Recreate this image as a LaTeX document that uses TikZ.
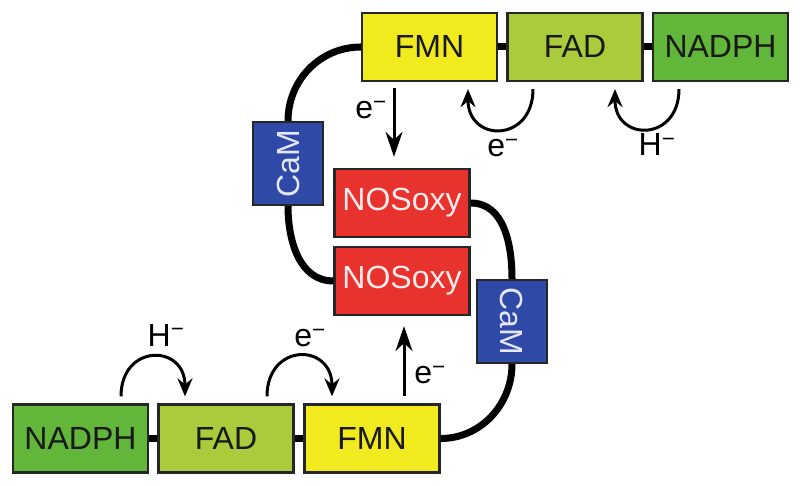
\documentclass[tikz,border=0pt]{standalone}
\usepackage{fontspec}
\setmainfont{Liberation Sans}
\usetikzlibrary{arrows.meta}
\definecolor{fmncol}{RGB}{241,234,30}
\definecolor{fadcol}{RGB}{170,204,60}
\definecolor{nadphcol}{RGB}{98,182,58}
\definecolor{oxycol}{RGB}{232,50,46}
\definecolor{camcol}{RGB}{46,74,166}

\begin{document}
\begin{tikzpicture}[x=1pt, y=1pt]
	\tikzstyle{modbox} = [draw=black!85, line width=2.2pt, minimum width=135pt, minimum height=68pt, inner sep=0pt, text=black!90, font=\fontsize{32}{38}\selectfont]
	\tikzstyle{oxybox} = [modbox, fill=oxycol, text=white!92!red]
	\tikzstyle{cambox} = [modbox, fill=camcol, text=white!90!blue, minimum width=70pt, minimum height=83pt]
	\tikzstyle{linker} = [line width=7pt]
	\tikzstyle{pusharrow} = [line width=3pt, -{Stealth[length=25pt, width=17pt, inset=8pt]}]
	\tikzstyle{hoparrow} = [line width=3pt, -{Stealth[length=18pt, width=15pt, inset=6pt]}]
	\tikzstyle{lbl} = [inner sep=0pt, font=\fontsize{32}{38}\selectfont]
	\useasboundingbox (0,0) rectangle (800,486);
	% top reductase
	\node[modbox, fill=fmncol] (fmnT) at (429.5, 439) {FMN};
	\node[modbox, fill=fadcol] (fadT) at (575, 439) {FAD};
	\node[modbox, fill=nadphcol] (nadphT) at (720.5, 439) {NADPH};
	\node[cambox] (camT) at (288, 322.5) {\rotatebox{90}{CaM}};
	% oxygenase dimer
	\node[oxybox] (oxyT) at (402, 283) {NOSoxy};
	\node[oxybox] (oxyB) at (402, 205) {NOSoxy};
	% bottom reductase
	\node[cambox] (camB) at (512, 164.5) {\rotatebox{-90}{CaM}};
	\node[modbox, fill=nadphcol] (nadphB) at (80.5, 47.5) {NADPH};
	\node[modbox, fill=fadcol] (fadB) at (226, 47.5) {FAD};
	\node[modbox, fill=fmncol] (fmnB) at (372, 47.5) {FMN};
	\draw [linker] (fmnT.east)--(fadT.west);
	\draw [linker] (fadT.east)--(nadphT.west);
	\draw [linker] (nadphB.east)--(fadB.west);
	\draw [linker] (fadB.east)--(fmnB.west);
	\draw [linker] (fmnT.west) to[out=180, in=90] (camT.north);
	\draw [linker] (camT.south) to[out=-90, in=180] (oxyB.west);
	\draw [linker] (oxyT.east) to[out=0, in=90] (camB.north);
	\draw [linker] (camB.south) to[out=-90, in=0] (fmnB.east);
	% electron and hydride transfer
	\draw [pusharrow, shorten <=6pt, shorten >=11pt] ([xshift=-8pt]oxyT.north |- fmnT.south)--([xshift=-8pt]oxyT.north);
	\draw [pusharrow, shorten <=7pt, shorten >=10pt] ([xshift=2pt]oxyB.south |- fmnB.north)--([xshift=2pt]oxyB.south);
	\draw [hoparrow, shorten <=7pt, shorten >=7pt] ([xshift=-42pt]fadT.south) to[out=-90, in=-90, looseness=2.4] ([xshift=38.5pt]fmnT.south);
	\draw [hoparrow, shorten <=7pt, shorten >=7pt] ([xshift=-41.5pt]nadphT.south) to[out=-90, in=-90, looseness=2.4] ([xshift=40pt]fadT.south);
	\draw [hoparrow, shorten <=7pt, shorten >=7pt] ([xshift=40.5pt]nadphB.north) to[out=90, in=90, looseness=2.4] ([xshift=-41pt]fadB.north);
	\draw [hoparrow, shorten <=7pt, shorten >=7pt] ([xshift=41pt]fadB.north) to[out=90, in=90, looseness=2.4] ([xshift=-40pt]fmnB.north);
	\node[lbl] (eDown) at (371, 376) {e\textsuperscript{−}};
	\node[lbl] (eTop) at (503, 338) {e\textsuperscript{−}};
	\node[lbl] (hTop) at (657, 341) {H\textsuperscript{−}};
	\node[lbl] (hBot) at (166, 151) {H\textsuperscript{−}};
	\node[lbl] (eBot) at (310, 148) {e\textsuperscript{−}};
	\node[lbl] (eUp) at (430, 111) {e\textsuperscript{−}};
\end{tikzpicture}
\end{document}
